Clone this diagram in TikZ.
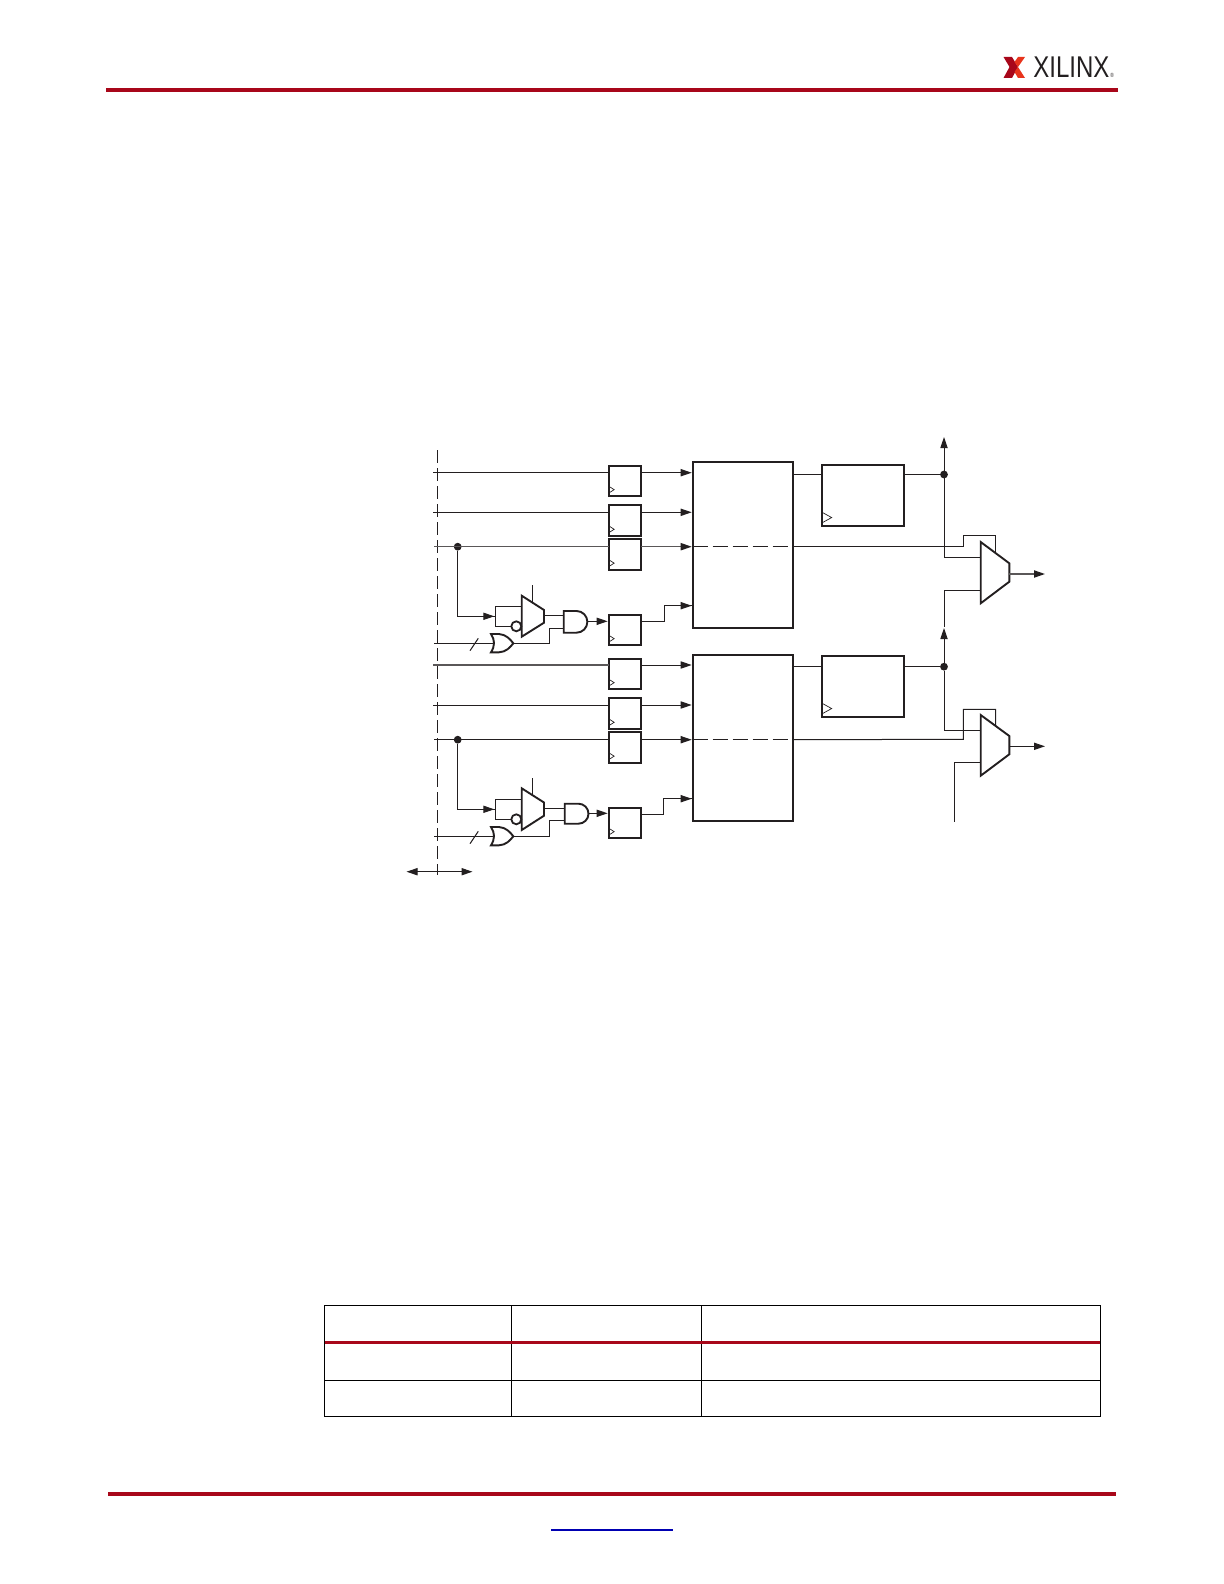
\documentclass[tikz,border=0pt]{standalone}
\usepackage{fontspec}
\usepackage{tikz}
\usetikzlibrary{positioning}
\usetikzlibrary{calc,arrows.meta}
\newfontfamily\logofont[FakeStretch=0.80]{Liberation Sans}
\definecolor{xred}{HTML}{A8071A}
\definecolor{xlight}{HTML}{E8341C}
\definecolor{xink}{HTML}{231F20}
\tikzset{
    wire/.style={draw=xink, line width=0.5pt},
    greywire/.style={draw=xink!75, line width=0.65pt},
    tipped/.style={-{Triangle[length=5.5pt,width=3.6pt,color=xink]}, shorten >=0.5pt},
    gate/.style={draw=xink, line width=0.95pt, line join=miter},
    ffbox/.style={rectangle, draw=xink, line width=0.95pt, minimum width=16.2pt, minimum height=15.3pt,
        inner sep=0pt, outer sep=0pt,
        path picture={\draw[xink, line width=0.35pt] (path picture bounding box.south west)
            ++(0,-10) -- ++(5.5,3.5) -- ++(-5.5,3.5);}},
    bigbox/.style={rectangle, draw=xink, line width=1pt, minimum width=50.3pt, minimum height=83.2pt,
        inner sep=0pt, outer sep=0pt},
    regbox/.style={rectangle, draw=xink, line width=1pt, minimum width=41.2pt, minimum height=30.7pt,
        inner sep=0pt, outer sep=0pt,
        path picture={\draw[xink, line width=0.35pt] (path picture bounding box.south west)
            ++(0,-14) -- ++(10,5.5) -- ++(-10,5.5);}},
    joint/.style={circle, fill=xink, minimum size=3.9pt, inner sep=0pt, outer sep=0pt},
    bubble/.style={circle, draw=xink, line width=0.9pt, minimum size=5pt, inner sep=0pt, outer sep=0pt},
    pagerule/.style={draw=xred, line width=2pt},
    cell/.style={draw=black, line width=0.45pt}
}
\begin{document}
\begin{tikzpicture}[x=0.5pt, y=-0.5pt]
    \useasboundingbox (0,0) rectangle (1224,1584);
    % page furniture
    \draw[pagerule] (106,90) -- (1118,90);
    \draw[pagerule] (108,1494) -- (1116,1494);
    \draw[draw=blue!70!black, line width=0.7pt] (551,1530) -- (672.5,1530);
    \fill[xred] (1003.5,57) -- (1012,57) -- (1018,67) -- (1012,78) -- (1003.5,78) -- (1009.5,67) -- cycle;
    \fill[xlight] (1025,57) -- (1018,57) -- (1014.5,62) -- (1018,67) -- (1025,78) -- (1018,78) -- (1014.5,72) -- (1018,67) -- cycle;
    \path
        node (logotext) at (1033,77.5) [anchor=south west, inner sep=0pt, font=\logofont\fontsize{15}{15}\selectfont, text=xink] {XILINX}
        node (logomark) at (1110,77.5) [anchor=south west, inner sep=0pt, font=\logofont\fontsize{3}{3}\selectfont, text=xink] {®};
    % table
    \draw[cell] (324.5,1305) rectangle (1100,1416);
    \draw[cell] (511.5,1305) -- (511.5,1416);
    \draw[cell] (701,1305) -- (701,1416);
    \draw[cell] (324.5,1380) -- (1100,1380);
    \draw[draw=xred, line width=1.5pt] (324.5,1342.5) -- (1100,1342.5);

    % boundary and its arrow
    \path
        coordinate (bndtop) at (437.3,450)
        coordinate (bndbot) at (437.3,875)
        coordinate (spanl) at (405.5,871.7)
        coordinate (spanm) at (437.3,871.7)
        coordinate (spanr) at (473.5,871.7);
    \draw[wire, line width=0.6pt, dash pattern=on 6.5pt off 2.5pt] (bndtop) -- (bndbot);
    \draw[wire, tipped] (spanm) -- (spanl);
    \draw[wire, tipped] (spanm) -- (spanr);

    % upper half
    \path
        node (ffa) at (624.85,480.85) [ffbox] {}
        node (ffb) at (624.85,520.5) [ffbox] {}
        node (ffc) at (624.85,554.35) [ffbox] {}
        node (ffd) at (624.85,629.85) [ffbox] {}
        node (blocka) at (743,544.85) [bigbox] {}
        node (rega) at (862.85,495.35) [regbox] {}
        node (jointa) at (457.7,546.7) [joint] {}
        node (jointr) at (944,474.5) [joint] {}
        node (bubblea) at (516.3,626.3) [bubble] {}
        coordinate (ina) at (433,472.7)
        coordinate (inb) at (433,512.3)
        coordinate (inc) at (434,546.7)
        coordinate (ind) at (434,643.3)
        coordinate (brka) at (495.3,616.3)
        coordinate (brkat) at (495.3,606.3)
        coordinate (brkab) at (495.3,626.3)
        coordinate (muxat) at (521.7,606.3)
        coordinate (selat) at (532.3,585)
        coordinate (selab) at (532.3,602.5)
        coordinate (muxao) at (544,615.3)
        coordinate (andai) at (563.7,615.3)
        coordinate (andaj) at (563.7,628.3)
        coordinate (andao) at (587.3,621.3)
        coordinate (orao) at (513.3,643.3)
        coordinate (orai) at (494,643.3)
        coordinate (slasha) at (470,650.7)
        coordinate (slashb) at (478.3,638.3)
        coordinate (fdin) at (692.7,605.7)
        coordinate (upr) at (944,436);
    \draw[gate] (521.7,595.7) -- (544,610) -- (544,622.7) -- (521.7,636.7) -- cycle;
    \draw[gate] (563.7,611) -- (576.5,611) arc[start angle=-90, end angle=90, radius=10.85] -- (563.7,632.7) -- cycle;
    \draw[gate] (491,634) -- (499,634) .. controls (506,634.5) and (510,639) .. (513.3,643.3)
        .. controls (510,647.5) and (506,652) .. (499,652.3) -- (491,652.3)
        .. controls (495,646) and (495,640) .. (491,634) -- cycle;
    \draw[wire] (ina) -- (ina -| ffa.west);
    \draw[wire, tipped] (ina -| ffa.east) -- (ina -| blocka.west);
    \draw[wire] (inb) -- (inb -| ffb.west);
    \draw[wire, tipped] (inb -| ffb.east) -- (inb -| blocka.west);
    \draw[greywire] (inc) -- (inc -| ffc.west);
    \draw[greywire, tipped] (inc -| ffc.east) -- (inc -| blocka.west);
    \draw[wire] (jointa) |- (brka);
    \draw[wire, tipped] (jointa |- brka) -- (brka);
    \draw[wire] (brkat) -- (brkab) -- (bubblea.west);
    \draw[wire] (brkat) -- (muxat);
    \draw[wire] (selat) -- (selab);
    \draw[wire] (muxao) -- (andai);
    \draw[wire] (ind) -- (orai);
    \draw[wire] (slasha) -- (slashb);
    \draw[wire] (orao) -| (549.3,628.3) -- (andaj);
    \draw[wire, tipped] (andao) -- (andao -| ffd.west);
    \draw[wire] (andao -| ffd.east) -| (664.7,605.7) -- (fdin);
    \draw[wire, tipped] (664.7,605.7) -- (fdin);
    \draw[wire, dash pattern=on 7.5pt off 2.5pt] (inc -| blocka.west) -- (inc -| blocka.east);

    % upper output side
    \path
        coordinate (muxbt) at (995.7,535.7)
        coordinate (muxbe) at (995.7,553.2)
        coordinate (muxbi) at (980.7,557)
        coordinate (muxbj) at (980.7,590.3)
        coordinate (muxbo) at (1009.3,574)
        coordinate (outa) at (1046,574)
        coordinate (rise) at (963.3,546.7);
    \draw[gate] (980.7,542) -- (1009.3,563.3) -- (1009.3,581.7) -- (980.7,603.3) -- cycle;
    \draw[wire] (jointr -| blocka.east) -- (jointr -| rega.west);
    \draw[wire] (jointr -| rega.east) -- (jointr);
    \draw[wire, tipped] (jointr) -- (upr);
    \draw[wire] (jointr) |- (muxbi);
    \draw[wire] (inc -| blocka.east) -- (rise) |- (muxbt) -- (muxbe);
    \draw[greywire, tipped] (muxbo) -- (outa);

    % lower half
    \path
        node (ffe) at (624.85,673.85) [ffbox] {}
        node (fff) at (624.85,713.5) [ffbox] {}
        node (ffg) at (624.85,747.35) [ffbox] {}
        node (ffh) at (624.85,822.85) [ffbox] {}
        node (blockb) at (743,738) [bigbox] {}
        node (regb) at (862.85,686.35) [regbox] {}
        node (jointb) at (457.7,739.7) [joint] {}
        node (joints) at (944,666.7) [joint] {}
        node (bubbleb) at (516.3,819.3) [bubble] {}
        coordinate (ine) at (433,665)
        coordinate (inf) at (433,705)
        coordinate (ing) at (434,739.7)
        coordinate (inh) at (434,836.3)
        coordinate (brkb) at (495.3,809.3)
        coordinate (brkbt) at (495.3,799.3)
        coordinate (brkbb) at (495.3,819.3)
        coordinate (muxct) at (521.7,799.3)
        coordinate (selbt) at (532.3,778)
        coordinate (selbb) at (532.3,795.5)
        coordinate (muxco) at (544,808.3)
        coordinate (andbi) at (564.7,808.3)
        coordinate (andbj) at (564.7,820.3)
        coordinate (andbo) at (589,813.3)
        coordinate (orbo) at (513.3,836.3)
        coordinate (orbi) at (494,836.3)
        coordinate (slashc) at (470,843.7)
        coordinate (slashd) at (478.3,831.3)
        coordinate (hdin) at (692.7,798.7)
        coordinate (ups) at (944,627)
        coordinate (muxdi) at (980.7,730.3)
        coordinate (muxdj) at (980.7,762.3)
        coordinate (muxdo) at (1009.3,746.3)
        coordinate (outb) at (1046,746.3)
        coordinate (rist) at (963.3,739.3)
        coordinate (muxdt) at (995.7,709.3)
        coordinate (muxde) at (995.7,726.2)
        coordinate (feed) at (954.3,821.7);
    \draw[gate] (521.7,788.3) -- (544,802.5) -- (544,815.7) -- (521.7,830) -- cycle;
    \draw[gate] (564.7,803.7) -- (578.5,803.7) arc[start angle=-90, end angle=90, radius=10] -- (564.7,823.7) -- cycle;
    \draw[gate] (491,827) -- (499,827) .. controls (506,827.5) and (510,832) .. (513.3,836.3)
        .. controls (510,840.5) and (506,845) .. (499,845.3) -- (491,845.3)
        .. controls (495,839) and (495,833) .. (491,827) -- cycle;
    \draw[greywire] (ine) -- (ine -| ffe.west);
    \draw[wire, tipped] (ine -| ffe.east) -- (ine -| blockb.west);
    \draw[wire] (inf) -- (inf -| fff.west);
    \draw[wire, tipped] (inf -| fff.east) -- (inf -| blockb.west);
    \draw[wire] (ing) -- (ing -| ffg.west);
    \draw[wire, tipped] (ing -| ffg.east) -- (ing -| blockb.west);
    \draw[wire] (jointb) |- (brkb);
    \draw[wire, tipped] (jointb |- brkb) -- (brkb);
    \draw[wire] (brkbt) -- (brkbb) -- (bubbleb.west);
    \draw[wire] (brkbt) -- (muxct);
    \draw[wire] (selbt) -- (selbb);
    \draw[wire] (muxco) -- (andbi);
    \draw[wire] (inh) -- (orbi);
    \draw[wire] (slashc) -- (slashd);
    \draw[wire] (orbo) -| (549.3,820.3) -- (andbj);
    \draw[wire, tipped] (andbo) -- (andbo -| ffh.west);
    \draw[wire] (ffh.east |- 0,814.3) -| (663.3,798.7) -- (hdin);
    \draw[wire, tipped] (663.3,798.7) -- (hdin);
    \draw[wire, dash pattern=on 7.5pt off 2.5pt] (ing -| blockb.west) -- (ing -| blockb.east);

    % lower output side
    \draw[gate] (980.7,715) -- (1009.3,736) -- (1009.3,754.3) -- (980.7,775.7) -- cycle;
    \draw[wire] (joints -| blockb.east) -- (joints -| regb.west);
    \draw[wire] (joints -| regb.east) -- (joints);
    \draw[wire] (joints) |- (muxdi);
    \draw[wire, tipped] (joints) -- (ups);
    \draw[wire] (ups) |- (muxbj);
    \draw[wire] (ing -| blockb.east) -- (rist) |- (muxdt) -- (muxde);
    \draw[wire] (feed) |- (muxdj);
    \draw[wire, tipped] (muxdo) -- (outb);
\end{tikzpicture}
\end{document}
